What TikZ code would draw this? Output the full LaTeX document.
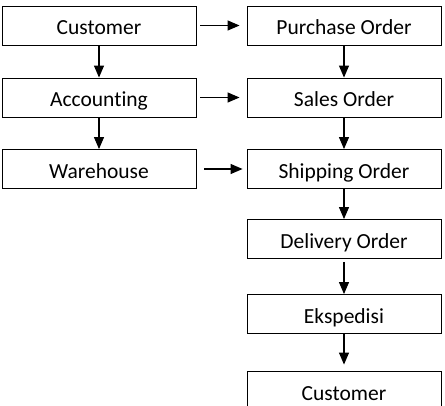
\documentclass[tikz,border=0pt]{standalone}
\usepackage{fontspec}
\setmainfont[Ligatures=NoCommon]{Carlito}
\usetikzlibrary{arrows.meta}
\begin{document}
\begin{tikzpicture}[x=1pt,y=-1pt,
	box/.style={draw,line width=0.9pt,minimum width=194pt,minimum height=39pt,inner sep=0pt,text height=19pt,text depth=0pt,font=\fontsize{21.5}{24}\selectfont},
	arr/.style={-{Triangle[length=12pt,width=10pt]},line width=1.2pt}]

\clip (0,0) rectangle (445,406);

\node[box] (cust) at (99,25.5) {Customer};
\node[box] (acc) at (99,97.5) {Accounting};
\node[box] (wh) at (99,169) {Warehouse};

\node[box] (po) at (344,25.5) {Purchase Order};
\node[box] (so) at (344,97.5) {Sales Order};
\node[box] (ship) at (344,169) {Shipping Order};
\node[box] (do) at (344,239) {Delivery Order};
\node[box] (eks) at (344,314) {Ekspedisi};
\node[box] (cust2) at (344,390.5) {Customer};

\draw[arr] (cust) -- (acc);
\draw[arr] (acc) -- (wh);

\draw[arr,shorten <=4pt,shorten >=7pt] (cust) -- (po);
\draw[arr,shorten <=4pt,shorten >=7pt] (acc) -- (so);
\draw[arr,shorten <=8pt,shorten >=4pt] (wh) -- (ship);

\draw[arr] (po) -- (so);
\draw[arr] (so) -- (ship);
\draw[arr] (ship) -- (do);
\draw[arr,shorten <=3pt] (do) -- (eks);
\draw[arr,shorten >=6pt] (eks) -- (cust2);
\end{tikzpicture}
\end{document}
